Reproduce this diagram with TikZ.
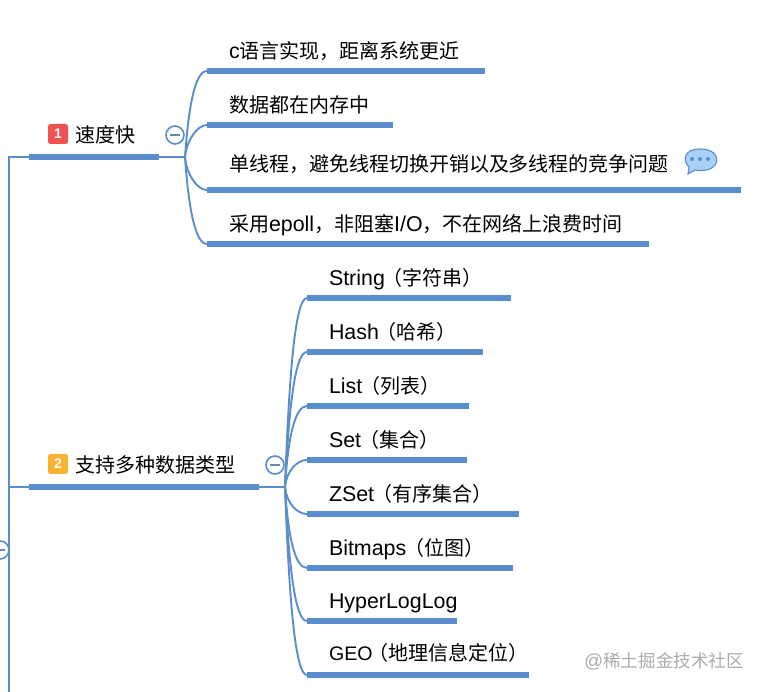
\documentclass[tikz,border=0pt]{standalone}
\usepackage{fontspec}
\setmainfont{Noto Sans CJK SC}
\newfontfamily\lat[Scale=1.07]{Liberation Sans}
\newfontfamily\latn[Scale=0.98]{Liberation Sans}
\newcommand{\pk}{\kern-2pt}
\usetikzlibrary{calc}
\definecolor{branch}{HTML}{5A8DCE}
\definecolor{badgeA}{HTML}{EE5252}
\definecolor{badgeB}{HTML}{FBB130}
\definecolor{bubfill}{HTML}{A9D0F7}
\definecolor{bubline}{HTML}{5A8DCE}
\tikzset{
  bar/.style={fill=branch,inner sep=0pt,outer sep=0pt,minimum height=6pt,anchor=west},
  wire/.style={draw=branch,line width=1.9pt},
  lab/.style={inner sep=0pt,outer sep=0pt,anchor=base west,font=\fontsize{20}{20}\selectfont,text=black},
  badge/.style={rounded corners=2.5pt,minimum size=20pt,inner sep=0pt,text=white,font=\lat\bfseries\fontsize{13}{13}\selectfont},
  toggle/.style={circle,draw=branch,line width=1.6pt,fill=white,minimum size=18pt,inner sep=0pt},
  minusline/.style={draw=branch!60!gray,line width=1.6pt}
}
\begin{document}
\begin{tikzpicture}[x=1pt,y=-1pt]
\useasboundingbox (0,0) rectangle (764,692);
% root
\coordinate (rootTop) at (9,157);
\coordinate (rootBot) at (9,692);
\coordinate (rootMid) at (9,487);
\draw[wire] (29,157) -- (rootTop) -- (rootBot);
\draw[wire] (rootMid) -- (29,487);
\node[toggle] (rootT) at (0,550) {};
\draw[minusline] (rootT.center) ++(-5,0) -- ++(10,0);
% main nodes
\node[bar,minimum width=130pt] (m1) at (29,157) {};
\node[bar,minimum width=230pt] (m2) at (29,487) {};
\coordinate (j1) at (185,157);
\coordinate (j2) at (285,487);
\draw[wire] (m1.east) -- (j1);
\draw[wire] (m2.east) -- (j2);
\node[badge,fill=badgeA] (bd1) at (58,134) {1};
\node[badge,fill=badgeB] (bd2) at (58,464) {2};
\node[lab] (t1) at (75,143) {速度快};
\node[lab] (t2) at (75,473) {支持多种数据类型};
\node[toggle] (c1) at (175,135) {};
\node[toggle] (c2) at (275,465) {};
\draw[minusline] (c1.center) ++(-5,0) -- ++(10,0);
\draw[minusline] (c2.center) ++(-5,0) -- ++(10,0);
% first group
\node[bar,minimum width=278pt] (a1) at (207,71) {};
\node[bar,minimum width=186pt] (a2) at (207,125) {};
\node[bar,minimum width=534pt] (a3) at (207,190) {};
\node[bar,minimum width=442pt] (a4) at (207,244) {};
\node[lab] (ta1) at (229,59) {{\lat c}语言实现，距离系统更近};
\node[lab] (ta2) at (229,113) {数据都在内存中};
\node[lab] (ta3) at (229,172) {单线程，避免线程切换开销以及多线程的竞争问题};
\node[lab] (ta4) at (229,232) {采用{\lat epoll}，非阻塞{\lat I/O}，不在网络上浪费时间};
\draw[wire] (j1) .. controls +(3.5,-50) and +(-12,0) .. (a1.west);
\draw[wire] (j1) .. controls +(1.5,-16) and +(-10,0) .. (a2.west);
\draw[wire] (j1) .. controls +(1.5,17) and +(-10,0) .. (a3.west);
\draw[wire] (j1) .. controls +(3.5,50) and +(-12,0) .. (a4.west);
% second group
\node[bar,minimum width=204pt] (b1) at (307,298) {};
\node[bar,minimum width=176pt] (b2) at (307,352) {};
\node[bar,minimum width=162pt] (b3) at (307,406) {};
\node[bar,minimum width=160pt] (b4) at (307,460) {};
\node[bar,minimum width=212pt] (b5) at (307,514) {};
\node[bar,minimum width=206pt] (b6) at (307,568) {};
\node[bar,minimum width=150pt] (b7) at (307,621) {};
\node[bar,minimum width=222pt] (b8) at (307,675) {};
\node[lab] (tb1) at (329,286) {{\lat String}\pk（字符串）};
\node[lab] (tb2) at (329,340) {{\lat Hash}\pk（哈希）};
\node[lab] (tb3) at (329,394) {{\lat List}\pk（列表）};
\node[lab] (tb4) at (329,448) {{\lat Set}\pk（集合）};
\node[lab] (tb5) at (329,502) {{\lat ZSet}\pk（有序集合）};
\node[lab] (tb6) at (329,556) {{\lat Bitmaps}\pk（位图）};
\node[lab] (tb7) at (329,609) {\lat HyperLogLog};
\node[lab] (tb8) at (329,661) {{\latn GEO}\pk\pk（地理信息定位）};
\draw[wire] (j2) .. controls +(4,-110) and +(-12,0) .. (b1.west);
\draw[wire] (j2) .. controls +(4,-80) and +(-12,0) .. (b2.west);
\draw[wire] (j2) .. controls +(3,-50) and +(-12,0) .. (b3.west);
\draw[wire] (j2) .. controls +(1.5,-16) and +(-10,0) .. (b4.west);
\draw[wire] (j2) .. controls +(1.5,16) and +(-10,0) .. (b5.west);
\draw[wire] (j2) .. controls +(3,50) and +(-12,0) .. (b6.west);
\draw[wire] (j2) .. controls +(4,80) and +(-12,0) .. (b7.west);
\draw[wire] (j2) .. controls +(4,110) and +(-12,0) .. (b8.west);
% note bubble
\draw[fill=bubfill,draw=bubline,line width=1.1pt]
  (689,167) .. controls (682,160) and (684,149) .. (700,149)
  .. controls (717,149) and (719,160) .. (715,165)
  .. controls (711,171) and (700,171) .. (695,170)
  -- (688,174) -- cycle;
\foreach \px in {692,700,708} \fill[branch] (\px,159) circle (2pt);
% watermark
\node[inner sep=0pt,anchor=base west,text=black!33,font=\fontsize{17.6}{17.6}\selectfont] (wm) at (584,668) {{\lat @}稀土掘金技术社区};
\end{tikzpicture}
\end{document}
